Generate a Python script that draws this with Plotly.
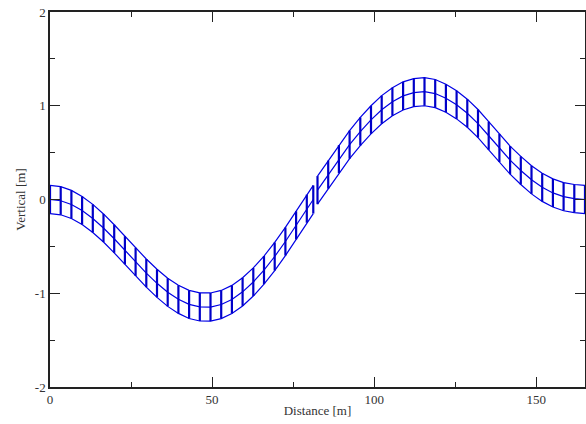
import plotly.graph_objects as go

# Pipe segment 1: node stations (m) and centreline elevation (m)
seg1_x = [0.0, 3.3, 6.6, 9.9, 13.2, 16.5, 19.8, 23.1, 26.4, 29.7,
          33.0, 36.3, 39.6, 42.9, 46.2, 49.5, 52.8, 56.1, 59.4, 62.7,
          66.0, 69.3, 72.6, 75.9, 79.2, 81.2]
seg1_y = [0.000, -0.013, -0.053, -0.117, -0.202, -0.304, -0.419, -0.541, -0.665, -0.785,
          -0.894, -0.990, -1.065, -1.119, -1.146, -1.147, -1.120, -1.066, -0.985, -0.880,
          -0.753, -0.608, -0.448, -0.276, -0.098, 0.000]
# Pipe segment 2
seg2_x = [82.5, 85.8, 89.1, 92.4, 95.7,
          99.0, 102.3, 105.6, 108.9, 112.2, 115.5, 118.8, 122.1, 125.4, 128.7,
          132.0, 135.3, 138.6, 141.9, 145.2, 148.5, 151.8, 155.1, 158.4, 161.7, 165.0]
seg2_y = [0.100, 0.265, 0.430, 0.585, 0.725,
          0.850, 0.958, 1.043, 1.105, 1.140, 1.150, 1.130, 1.080, 1.010, 0.920,
          0.810, 0.680, 0.550, 0.420, 0.310, 0.210, 0.130, 0.070, 0.030, 0.010, 0.000]
half_height = 0.15  # half of the pipe section depth (m)

x_ticks = [0, 50, 100, 150]
x_labels = ["0", "50", "100", "150"]
y_ticks = [-2, -1, 0, 1, 2]
y_labels = ["-2", "-1", "0", "1", "2"]

blue = "#0000e6"

fig = go.Figure()
for xs, cs in ((seg1_x, seg1_y), (seg2_x, seg2_y)):
    top = [c + half_height for c in cs]
    bot = [c - half_height for c in cs]
    for ys in (top, cs, bot):
        fig.add_trace(go.Scatter(x=xs, y=ys, mode="lines",
                                 line=dict(color=blue, width=1.2),
                                 hoverinfo="skip", showlegend=False))
    vx, vy = [], []
    for x, t, b in zip(xs, top, bot):
        vx += [x, x, None]
        vy += [t, b, None]
    fig.add_trace(go.Scatter(x=vx, y=vy, mode="lines",
                             line=dict(color="#0000c8", width=2.2),
                             hoverinfo="skip", showlegend=False))

serif = "Liberation Serif"
axis_common = dict(
    showgrid=False, zeroline=False, showline=True, linecolor="#222222", linewidth=1.5,
    mirror="ticks", ticks="inside", ticklen=10, tickwidth=1.3, tickcolor="#222222",
    tickfont=dict(family=serif, size=13, color="#333333"),
    minor=dict(ticks="inside", ticklen=5, tickwidth=1.3, tickcolor="#222222"),
    automargin=False,
)

fig.update_xaxes(range=[0, 165], tickvals=x_ticks, ticktext=x_labels, minor_dtick=25,
                 title=dict(text="Distance [m]", font=dict(family=serif, size=13, color="#333333"), standoff=0),
                 **axis_common)
fig.update_yaxes(range=[-2, 2], tickvals=y_ticks, ticktext=y_labels, minor_dtick=0.5,
                 title=dict(text="Vertical [m]", font=dict(family=serif, size=13, color="#333333"), standoff=6),
                 **axis_common)

fig.update_layout(width=586, height=424, margin=dict(l=50, r=1, t=12, b=37),
                  plot_bgcolor="white", paper_bgcolor="white")

fig.write_html("out.html", config={"displayModeBar": False},
               post_script="document.body.style.margin='0';document.body.style.overflow='hidden';")
